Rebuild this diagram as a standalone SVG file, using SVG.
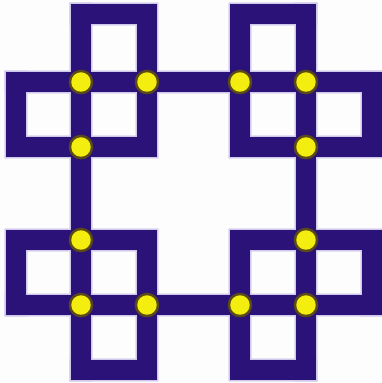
<svg xmlns="http://www.w3.org/2000/svg" width="382" height="383" viewBox="0 0 382 383">
  <style>
    .halo { fill: none; stroke: #cfc8ea; stroke-width: 23; stroke-linecap: square; stroke-linejoin: miter; }
    .bar { fill: none; stroke: #2a1278; stroke-width: 20; stroke-linecap: square; stroke-linejoin: miter; }
    .dot { fill: #f4ee10; stroke: #5a4a18; stroke-width: 2.5; }
  </style>
  <defs>
    <g id="lines">
      <path d="M81,14 H147 V147 H16 V82"/>
      <path d="M306,14 H240 V147 H372 V82"/>
      <path d="M16,305 V240 H147 V370 H81"/>
      <path d="M372,305 V240 H240 V370 H306"/>
      <path d="M81,14 V370"/>
      <path d="M306,14 V370"/>
      <path d="M16,82 H372"/>
      <path d="M16,305 H372"/>
    </g>
  </defs>
  <rect width="382" height="383" fill="#fdfdfd"/>
  <g id="connectors">
    <use href="#lines" class="halo"/>
    <use href="#lines" class="bar"/>
  </g>
  <g id="n1"><circle class="dot" cx="81" cy="82" r="11"/></g>
  <g id="n2"><circle class="dot" cx="147" cy="82" r="11"/></g>
  <g id="n3"><circle class="dot" cx="81" cy="147" r="11"/></g>
  <g id="n4"><circle class="dot" cx="240" cy="82" r="11"/></g>
  <g id="n5"><circle class="dot" cx="306" cy="82" r="11"/></g>
  <g id="n6"><circle class="dot" cx="306" cy="147" r="11"/></g>
  <g id="n7"><circle class="dot" cx="81" cy="240" r="11"/></g>
  <g id="n8"><circle class="dot" cx="81" cy="305" r="11"/></g>
  <g id="n9"><circle class="dot" cx="147" cy="305" r="11"/></g>
  <g id="n10"><circle class="dot" cx="306" cy="240" r="11"/></g>
  <g id="n11"><circle class="dot" cx="240" cy="305" r="11"/></g>
  <g id="n12"><circle class="dot" cx="306" cy="305" r="11"/></g>
</svg>
